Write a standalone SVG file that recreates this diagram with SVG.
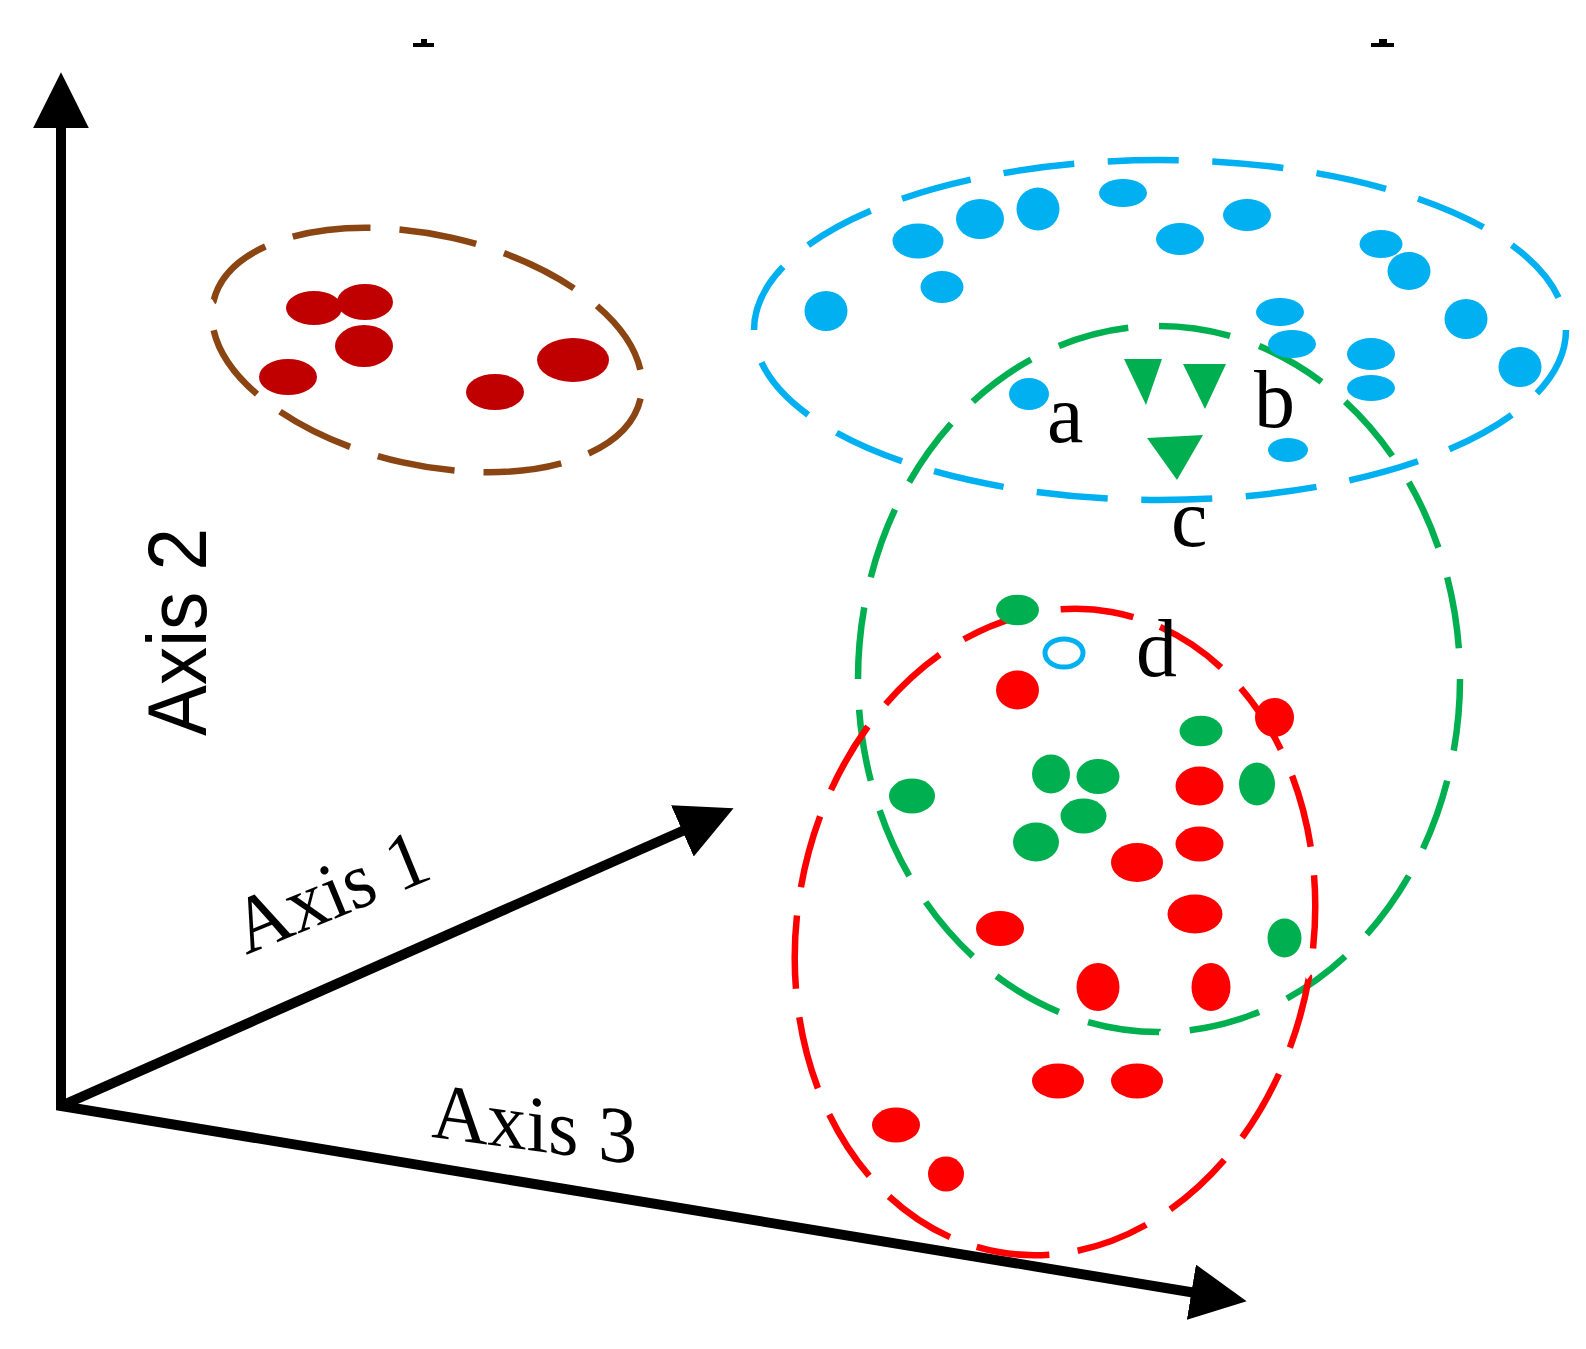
<svg xmlns="http://www.w3.org/2000/svg" width="1586" height="1349" viewBox="0 0 1586 1349">
<style>
.axis{fill:none;stroke:#000;stroke-width:10;stroke-linejoin:miter}
.ring{fill:none;stroke-width:6.5}
.serif{font-family:"Liberation Serif","Times New Roman",serif;fill:#000}
.sans{font-family:"Liberation Sans",Arial,sans-serif;fill:#000}
.dr{fill:#c00000}.rd{fill:#ff0000}.gr{fill:#00b050}.bl{fill:#00b0f0}
</style>
<defs>
<marker id="ah" markerUnits="userSpaceOnUse" markerWidth="56" markerHeight="56" viewBox="0 0 54 54" refX="9" refY="27" orient="auto-start-reverse">
<path d="M0,0 L54,27 L0,54 z" fill="#000"/>
</marker>
</defs>
<rect width="1586" height="1349" fill="#fff"/>
<g id="marks" fill="#000">
<rect x="413" y="43" width="21" height="4"/><rect x="421" y="39" width="6" height="4"/>
<rect x="1371" y="43" width="23" height="4"/><rect x="1379" y="39" width="8" height="4"/>
</g>
<g id="connectors">
<path class="axis" d="M61,119 L61,1106 L1200.6,1293.7" marker-start="url(#ah)" marker-end="url(#ah)"/>
<line class="axis" x1="61" y1="1106" x2="690.9" y2="827.2" marker-end="url(#ah)"/>
</g>
<g id="axis-labels">
<text class="sans" transform="translate(206,736) rotate(-90)" font-size="84" textLength="208" lengthAdjust="spacingAndGlyphs">Axis 2</text>
<text class="serif" transform="translate(246,955) rotate(-22.3)" font-size="80" textLength="204" lengthAdjust="spacingAndGlyphs">Axis 1</text>
<text class="serif" transform="translate(431,1137) skewY(7.6)" font-size="80" textLength="206" lengthAdjust="spacingAndGlyphs">Axis 3</text>
</g>
<g id="cluster-brown">
<ellipse class="ring" cx="427" cy="350" rx="219" ry="115" transform="rotate(12.8 427 350)" stroke="#8b4513" pathLength="1000" stroke-dasharray="73 27"/>
<ellipse class="dr" cx="314" cy="308" rx="28" ry="17"/>
<ellipse class="dr" cx="365" cy="302" rx="28" ry="18"/>
<ellipse class="dr" cx="364" cy="346" rx="29" ry="21"/>
<ellipse class="dr" cx="288" cy="377" rx="29" ry="18"/>
<ellipse class="dr" cx="495" cy="392" rx="29" ry="18"/>
<ellipse class="dr" cx="573" cy="360" rx="36" ry="22"/>
</g>
<g id="cluster-blue-ring">
<ellipse class="ring" cx="1160" cy="330" rx="406" ry="170" stroke="#00b0f0" pathLength="1800" stroke-dasharray="68 32"/>
</g>
<g id="cluster-green-ring">
<ellipse class="ring" cx="1159" cy="679" rx="301" ry="353" stroke="#00b050" stroke-width="5.5" pathLength="2000" stroke-dasharray="70 30"/>
</g>
<g id="cluster-red-ring">
<ellipse class="ring" cx="1055" cy="932" rx="258" ry="325" transform="rotate(10 1055 932)" stroke="#ff0000" pathLength="1800" stroke-dasharray="72 28"/>
</g>
<g id="cluster-blue">
<ellipse class="bl" cx="826" cy="311" rx="21.5" ry="20"/>
<ellipse class="bl" cx="918" cy="241" rx="25.5" ry="17.5"/>
<ellipse class="bl" cx="942" cy="287" rx="21.5" ry="16"/>
<ellipse class="bl" cx="980" cy="219" rx="24" ry="20"/>
<ellipse class="bl" cx="1038" cy="209" rx="21.5" ry="21.5"/>
<ellipse class="bl" cx="1123" cy="193" rx="24" ry="14"/>
<ellipse class="bl" cx="1180" cy="239" rx="24" ry="16"/>
<ellipse class="bl" cx="1247" cy="215" rx="24" ry="16"/>
<ellipse class="bl" cx="1381" cy="244" rx="21.5" ry="14"/>
<ellipse class="bl" cx="1409" cy="271" rx="21.5" ry="19"/>
<ellipse class="bl" cx="1466" cy="319" rx="21.5" ry="20"/>
<ellipse class="bl" cx="1520" cy="367" rx="21.5" ry="20"/>
<ellipse class="bl" cx="1280" cy="312" rx="24" ry="14"/>
<ellipse class="bl" cx="1292" cy="344" rx="24" ry="14"/>
<ellipse class="bl" cx="1371" cy="354" rx="24" ry="16"/>
<ellipse class="bl" cx="1371" cy="388" rx="24" ry="13"/>
<ellipse class="bl" cx="1029" cy="394" rx="20" ry="16"/>
<ellipse class="bl" cx="1288" cy="450" rx="20" ry="12"/>
<ellipse cx="1064" cy="653" rx="19" ry="14" fill="none" stroke="#00b0f0" stroke-width="5"/>
</g>
<g id="cluster-green">
<polygon class="gr" points="1124,359 1162,359 1146,405"/>
<polygon class="gr" points="1183,364 1226,364 1205,409"/>
<polygon class="gr" points="1147,438 1203,435 1177,480"/>
<ellipse class="gr" cx="1017.5" cy="610" rx="21.5" ry="15.3"/>
<ellipse class="gr" cx="1201" cy="731" rx="21.5" ry="15.3"/>
<ellipse class="gr" cx="1051" cy="774" rx="19" ry="19.5"/>
<ellipse class="gr" cx="1098" cy="776.5" rx="21.5" ry="17.5"/>
<ellipse class="gr" cx="1257" cy="784" rx="18" ry="21.5"/>
<ellipse class="gr" cx="912" cy="796" rx="23" ry="17.5"/>
<ellipse class="gr" cx="1083.5" cy="816" rx="23" ry="17.5"/>
<ellipse class="gr" cx="1036" cy="842" rx="23" ry="19.5"/>
<ellipse class="gr" cx="1284.5" cy="938" rx="17" ry="19.5"/>
</g>
<g id="cluster-red">
<ellipse class="rd" cx="1017.5" cy="690" rx="21.5" ry="19.5"/>
<ellipse class="rd" cx="1274.5" cy="717.5" rx="19.5" ry="19.5"/>
<ellipse class="rd" cx="1199.5" cy="786" rx="24" ry="19.5"/>
<ellipse class="rd" cx="1199.5" cy="844" rx="24" ry="17.5"/>
<ellipse class="rd" cx="1137" cy="862.5" rx="26" ry="19.5"/>
<ellipse class="rd" cx="1195" cy="914" rx="27.5" ry="19.5"/>
<ellipse class="rd" cx="1000" cy="928.5" rx="24" ry="17.5"/>
<ellipse class="rd" cx="1098" cy="987" rx="21.5" ry="24"/>
<ellipse class="rd" cx="1211" cy="987" rx="19.5" ry="24"/>
<ellipse class="rd" cx="1058" cy="1081" rx="26" ry="17.5"/>
<ellipse class="rd" cx="1137" cy="1081" rx="26" ry="17.5"/>
<ellipse class="rd" cx="896" cy="1125" rx="24" ry="17.5"/>
<ellipse class="rd" cx="946" cy="1174" rx="18" ry="17.5"/>
</g>
<g id="point-labels" class="serif" font-size="82">
<text class="serif" x="1047" y="442">a</text>
<text class="serif" x="1254" y="427">b</text>
<text class="serif" x="1171" y="546">c</text>
<text class="serif" x="1136" y="676">d</text>
</g>
</svg>
